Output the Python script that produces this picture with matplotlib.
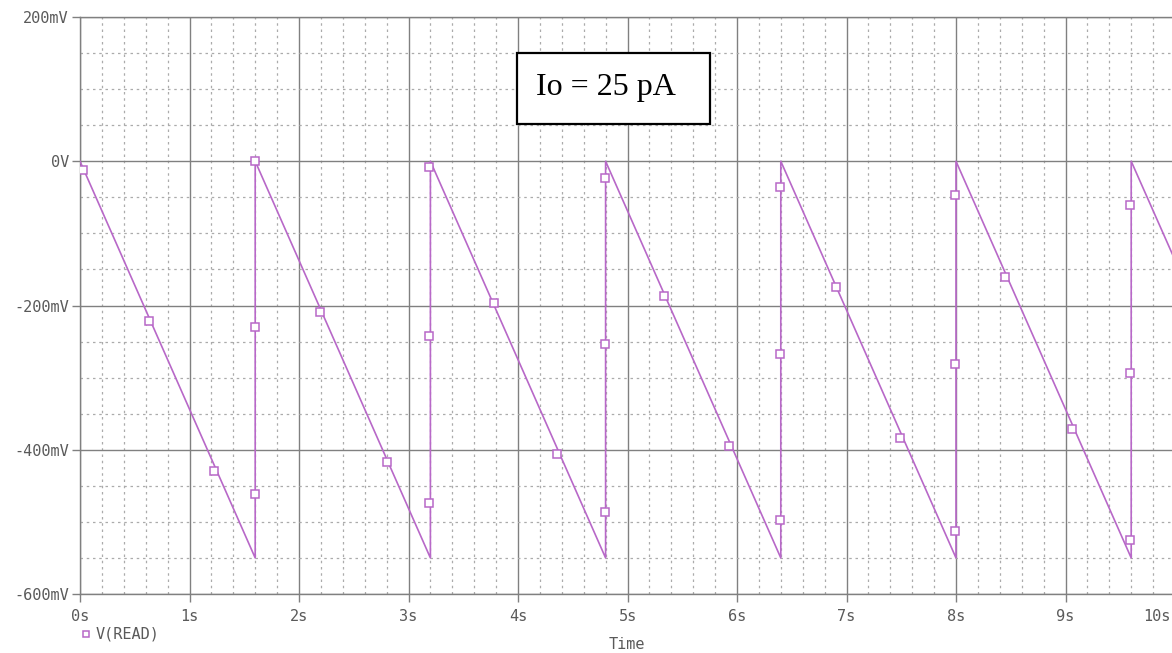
import numpy as np
import matplotlib
matplotlib.use("Agg")
from matplotlib import pyplot as plt
from matplotlib.patches import Rectangle
from matplotlib.transforms import ScaledTranslation

# sawtooth breakpoints (s, mV)
line_t = [0.0, 1.6, 1.6, 3.2, 3.2, 4.8, 4.8, 6.4, 6.4, 8.0, 8.0, 9.6, 9.6, 10.0]
line_v = [0, -550, 0, -550, 0, -550, 0, -550, 0, -550, 0, -550, 0, -137]

# marker squares
mark_t = [0.03, 0.63, 1.22, 1.60, 1.60, 1.60,
          2.19, 2.80, 3.19, 3.19, 3.19,
          3.78, 4.36, 4.79, 4.79, 4.79,
          5.33, 5.93, 6.39, 6.39, 6.39,
          6.90, 7.49, 7.99, 7.99, 7.99,
          8.45, 9.06, 9.59, 9.59, 9.59]
mark_v = [-12, -222, -429, 0, -230, -461,
          -209, -417, -8, -242, -474,
          -197, -406, -23, -254, -487,
          -187, -395, -36, -267, -498,
          -175, -384, -47, -281, -512,
          -161, -371, -61, -293, -525]

yticks = [200, 0, -200, -400, -600]
ytick_labels = ['200mV', '0V', '-200mV', '-400mV', '-600mV']
xticks = [0, 1, 2, 3, 4, 5, 6, 7, 8, 9, 10]
xtick_labels = ['0s', '1s', '2s', '3s', '4s', '5s', '6s', '7s', '8s', '9s', '10s']

W, H = 1172, 653
fig = plt.figure(figsize=(W / 100, H / 100), dpi=100)
fig.patch.set_facecolor('white')

left, right, top, bottom = 80, 1175, 17, 594
ax = fig.add_axes([left / W, 1 - bottom / H, (right - left) / W, (bottom - top) / H])

purple = '#b868c8'
grey_txt = '#5a5a5a'
mono = 'DejaVu Sans Mono'

ax.plot(line_t, line_v, color=purple, lw=1.2, zorder=3)
ax.plot(mark_t, mark_v, ls='none', marker='s', ms=5.5, mfc='white',
        mec=purple, mew=1.1, zorder=4)

ax.set_xlim(0, 10)
ax.set_ylim(-600, 200)

ax.set_xticks(xticks)
ax.set_xticklabels(xtick_labels)
ax.set_yticks(yticks)
ax.set_yticklabels(ytick_labels)
ax.set_xticks(np.arange(0, 10.01, 0.2), minor=True)
ax.set_yticks(np.arange(-600, 200.1, 50), minor=True)

ax.grid(which='major', color='#808080', lw=1.0, ls='-', zorder=1)
ax.grid(which='minor', color='#ababab', lw=0.9, ls=(0, (2, 3)), zorder=0)

ax.tick_params(which='major', length=6, color='#808080', width=1,
               labelsize=11, labelcolor=grey_txt, pad=2)
ax.tick_params(which='minor', length=0)
ax.tick_params(axis='x', pad=5)
for lab in ax.get_xticklabels() + ax.get_yticklabels():
    lab.set_family(mono)

# last label is pushed left so it stays inside the picture
last = ax.get_xticklabels()[-1]
last.set_transform(last.get_transform() + ScaledTranslation(-18 / 100, 0, fig.dpi_scale_trans))

for s in ax.spines.values():
    s.set_color('#808080')
    s.set_linewidth(1.0)

# legend entry under the axis
ax.plot([86 / W], [1 - 634 / H], transform=fig.transFigure, marker='s', ms=4.5,
        mfc='white', mec=purple, mew=1.1, clip_on=False, ls='none')
fig.text(96 / W, 1 - 634 / H, 'V(READ)', family=mono, fontsize=11,
         color=grey_txt, va='center', ha='left')

# x axis title at the bottom edge
fig.text(627 / W, 1 - 652 / H, 'Time', family=mono, fontsize=11,
         color=grey_txt, va='bottom', ha='center')

# annotation box
fig.patches.append(Rectangle((517 / W, 1 - 124 / H), 193 / W, 71 / H,
                             transform=fig.transFigure, facecolor='white',
                             edgecolor='black', lw=1.6, zorder=5))
fig.text(606 / W, 1 - 88 / H, 'Io = 25 pA', family='Liberation Serif',
         fontsize=23, color='black', ha='center', va='center', zorder=6)

fig.savefig('out.png', dpi=100)
